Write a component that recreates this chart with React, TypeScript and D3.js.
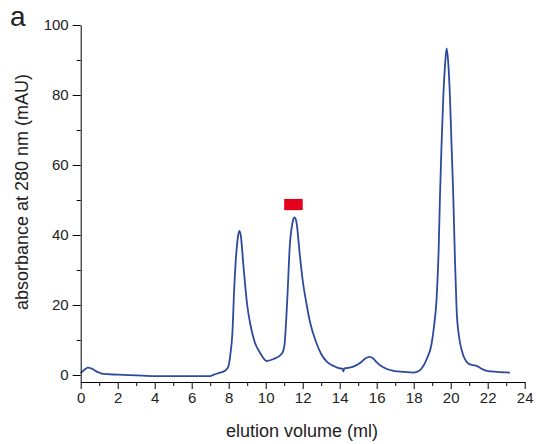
import { useEffect, useRef } from 'react';
import * as d3 from 'd3';

// elution profile
const volume = [0, 0.2, 0.4, 0.6, 0.9, 1.2, 2, 3, 4, 5, 6, 7, 7.2, 7.5, 7.8, 7.98, 8.1, 8.2, 8.3, 8.4, 8.5, 8.57, 8.65, 8.8, 9.0, 9.15, 9.4, 9.7, 10.05, 10.4, 10.86, 11.0, 11.17, 11.3, 11.45, 11.55, 11.65, 11.85, 12.0, 12.2, 12.4, 12.75, 13.0, 13.3, 13.7, 14.0, 14.15, 14.2, 14.25, 14.4, 14.7, 15.1, 15.4, 15.6, 15.8, 16.0, 16.35, 16.9, 17.5, 17.98, 18.3, 18.5, 18.7, 18.97, 19.1, 19.24, 19.35, 19.42, 19.5, 19.6, 19.7, 19.78, 19.87, 19.96, 20.05, 20.14, 20.23, 20.32, 20.45, 20.6, 20.95, 21.2, 21.4, 21.6, 21.95, 22.5, 23.2];
const absorbance = [0.5, 1.5, 2.1, 1.8, 0.9, 0.3, 0.1, -0.1, -0.3, -0.3, -0.3, -0.3, 0.1, 0.6, 1.2, 2.4, 6.3, 12, 25, 34, 39.5, 41.2, 40, 31, 20, 15, 9.5, 6.3, 4, 4.5, 6, 8, 22, 36.7, 43.5, 45, 44, 34, 27, 20.5, 15, 9, 6, 3.8, 2.5, 1.9, 1.8, 1.0, 1.9, 2.0, 2.3, 3.4, 4.8, 5.2, 4.8, 3.6, 2.2, 1.2, 0.9, 0.7, 1.2, 2.4, 4.5, 9, 14, 22, 36, 51, 65, 79.5, 89, 93.3, 89, 79.5, 65, 51, 33, 18.6, 11, 7, 3.3, 2.8, 2.6, 2.0, 1.2, 0.9, 0.7];

// collected fraction marker (ml range, mAU range)
const fractionVolume = [11.0, 12.0];
const fractionAbs = [47.1, 50.3];

const xMajor = d3.range(0, 25, 2);
const xMinor = d3.range(1, 24, 2);
const yMajor = [0, 20, 40, 60, 80, 100];
const yMinor = [10, 30, 50, 70, 90];

const width = 536;
const height = 444;
const font = 'Liberation Sans, Arial, sans-serif';

export default function App() {
  const x = d3.scaleLinear().domain([0, 24]).range([80.7, 524.7]);
  const y = d3.scaleLinear().domain([-2, 100]).range([382, 25]);

  const gx = useRef<SVGGElement>(null);
  const gxm = useRef<SVGGElement>(null);
  const gy = useRef<SVGGElement>(null);
  const gym = useRef<SVGGElement>(null);

  useEffect(() => {
    d3.select(gx.current)
      .call(d3.axisBottom(x).tickValues(xMajor).tickSize(7).tickPadding(3).tickSizeOuter(0))
      .call(g => g.selectAll('text').attr('font-size', 15).attr('font-family', font).attr('fill', '#222'));
    d3.select(gxm.current)
      .call(d3.axisBottom(x).tickValues(xMinor).tickSize(4).tickFormat(() => '').tickSizeOuter(0))
      .call(g => g.select('.domain').remove());
    d3.select(gy.current)
      .call(d3.axisLeft(y).tickValues(yMajor).tickSize(8).tickPadding(4).tickSizeOuter(0))
      .call(g => g.selectAll('text').attr('font-size', 15).attr('font-family', font).attr('fill', '#222'));
    d3.select(gym.current)
      .call(d3.axisLeft(y).tickValues(yMinor).tickSize(4).tickFormat(() => '').tickSizeOuter(0))
      .call(g => g.select('.domain').remove());
  }, []);

  const line = d3.line<number>()
    .x((_, i) => x(volume[i]))
    .y(d => y(d))
    .curve(d3.curveMonotoneX);

  return (
    <svg width={width} height={height} style={{ position: 'absolute', left: 0, top: 0, background: '#fff' }}
      fontFamily={font}>
      <text x={10} y={26} fontSize={28} fill="#222">a</text>
      <path d={line(absorbance) || ''} fill="none" stroke="#2d4b9e" strokeWidth={1.8} />
      <rect x={x(fractionVolume[0])} y={y(fractionAbs[1])} width={x(fractionVolume[1]) - x(fractionVolume[0])}
        height={y(fractionAbs[0]) - y(fractionAbs[1])} fill="#e2001a" />
      <g ref={gx} transform={`translate(0,${y(-2)})`} />
      <g ref={gxm} transform={`translate(0,${y(-2)})`} />
      <g ref={gy} transform={`translate(${x(0)},0)`} />
      <g ref={gym} transform={`translate(${x(0)},0)`} />
      <text transform={`translate(28,192) rotate(-90)`} textAnchor="middle" fontSize={18} fill="#222">
        absorbance at 280 nm (mAU)
      </text>
      <text x={302} y={437} textAnchor="middle" fontSize={18} fill="#222">elution volume (ml)</text>
    </svg>
  );
}
